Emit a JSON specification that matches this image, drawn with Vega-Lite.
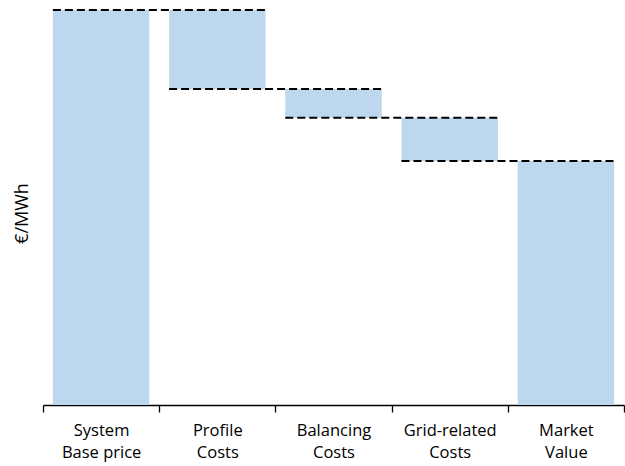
{
  "$schema": "https://vega.github.io/schema/vega-lite/v6.json",
  "width": 581,
  "height": 395,
  "autosize": {"type": "none"},
  "padding": {"left": 43, "top": 10, "right": 1, "bottom": 61},
  "background": "white",
  "config": {
    "view": {"stroke": null},
    "font": "Open Sans"
  },
  "datasets": {
    "bars": [
      {"cat": "System\nBase price", "lo": 0, "hi": 100},
      {"cat": "Profile\nCosts", "lo": 80, "hi": 100},
      {"cat": "Balancing\nCosts", "lo": 72.7, "hi": 80},
      {"cat": "Grid-related\nCosts", "lo": 61.8, "hi": 72.7},
      {"cat": "Market\nValue", "lo": 0, "hi": 61.8}
    ],
    "lines": [
      {"from": "System\nBase price", "to": "Profile\nCosts", "level": 100},
      {"from": "Profile\nCosts", "to": "Balancing\nCosts", "level": 80},
      {"from": "Balancing\nCosts", "to": "Grid-related\nCosts", "level": 72.7},
      {"from": "Grid-related\nCosts", "to": "Market\nValue", "level": 61.8}
    ]
  },
  "layer": [
    {
      "data": {"name": "bars"},
      "mark": {"type": "bar", "color": "#BDD7EE", "width": {"band": 0.83}},
      "encoding": {
        "x": {
          "field": "cat",
          "type": "nominal",
          "sort": null,
          "scale": {
            "domain": ["System\nBase price", "Profile\nCosts", "Balancing\nCosts", "Grid-related\nCosts", "Market\nValue"],
            "paddingInner": 0,
            "paddingOuter": 0
          },
          "axis": {
            "title": null,
            "labelAngle": 0,
            "tickBand": "extent",
            "labelExpr": "datum.value ? split(datum.value, '\\n') : ''",
            "labelFont": "Open Sans",
            "labelFontSize": 16.5,
            "labelColor": "#000000",
            "labelLineHeight": 22,
            "labelPadding": 10,
            "tickSize": 7,
            "tickColor": "#000000",
            "tickWidth": 1.3,
            "domainColor": "#000000",
            "domainWidth": 1.3
          }
        },
        "y": {
          "field": "lo",
          "type": "quantitative",
          "scale": {"domain": [0, 100], "nice": false},
          "axis": {
            "title": "€/MWh",
            "titleFont": "Open Sans",
            "titleFontSize": 18,
            "titleFontWeight": "normal",
            "titleColor": "#000000",
            "titlePadding": 12,
            "titleY": 203,
            "domain": false,
            "ticks": false,
            "labels": false,
            "grid": false
          }
        },
        "y2": {"field": "hi"}
      }
    },
    {
      "data": {"name": "lines"},
      "mark": {"type": "rule", "color": "#000000", "strokeWidth": 2, "strokeDash": [8, 4]},
      "encoding": {
        "x": {"field": "from", "type": "nominal", "bandPosition": 0.085},
        "x2": {"field": "to", "bandPosition": 0.915},
        "y": {"field": "level", "type": "quantitative"}
      }
    }
  ]
}
